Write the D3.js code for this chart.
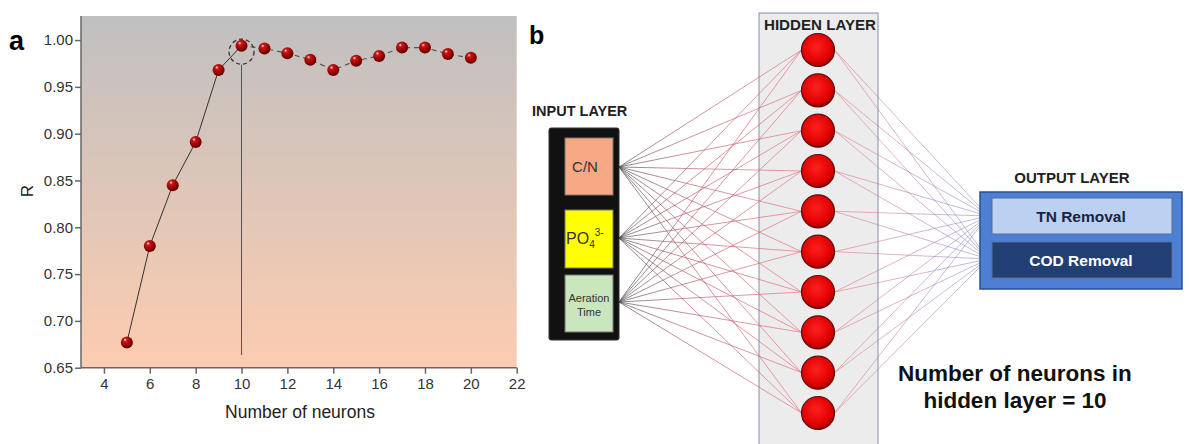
<!DOCTYPE html>
<meta charset="utf-8">
<style>
body { margin: 0; background: #fff; }
svg { display: block; font-family: "Liberation Sans", Arial, sans-serif; }
.axis path, .axis line { stroke: #666; stroke-width: 1.5; }
.axis text { fill: #333; font-size: 15px; }
.bold { font-weight: bold; }
</style>
<svg width="1189" height="444"></svg>
<script src="https://d3js.org/d3.v7.min.js"></script>
<script>

// panel a data
var neurons = [5, 6, 7, 8, 9, 10, 11, 12, 13, 14, 15, 16, 17, 18, 19, 20];
var rValues = [0.677, 0.780, 0.845, 0.891, 0.968, 0.994, 0.991, 0.986, 0.979, 0.968, 0.978, 0.983, 0.992, 0.992, 0.985, 0.981];
var xTicks = [4, 6, 8, 10, 12, 14, 16, 18, 20, 22];
var yTicks = [0.65, 0.70, 0.75, 0.80, 0.85, 0.90, 0.95, 1.00];
var bestNeurons = 10;

// panel b data
var inputLabels = ["C/N", "PO4", "Aeration Time"];
var inputColours = ["#f6a982", "#ffff00", "#c9e6bd"];
var hiddenCount = 10;
var outputLabels = ["TN Removal", "COD Removal"];

var svg = d3.select("svg");
var defs = svg.append("defs");

var bg = defs.append("linearGradient").attr("id", "bgGrad")
  .attr("x1", 0).attr("y1", 0).attr("x2", 0).attr("y2", 1);
bg.append("stop").attr("offset", "0%").attr("stop-color", "#c0c0c0");
bg.append("stop").attr("offset", "100%").attr("stop-color", "#fdccb0");

var ball = defs.append("radialGradient").attr("id", "ball")
  .attr("cx", "40%").attr("cy", "35%").attr("r", "65%").attr("fx", "35%").attr("fy", "28%");
ball.append("stop").attr("offset", "0%").attr("stop-color", "#ffe0e0");
ball.append("stop").attr("offset", "22%").attr("stop-color", "#c81818");
ball.append("stop").attr("offset", "70%").attr("stop-color", "#960000");
ball.append("stop").attr("offset", "100%").attr("stop-color", "#580000");

var neuronGrad = defs.append("radialGradient").attr("id", "neuron")
  .attr("cx", "45%").attr("cy", "40%").attr("r", "60%");
neuronGrad.append("stop").attr("offset", "0%").attr("stop-color", "#ff2020");
neuronGrad.append("stop").attr("offset", "75%").attr("stop-color", "#e00000");
neuronGrad.append("stop").attr("offset", "100%").attr("stop-color", "#a00000");

// ---------- panel a ----------
var x = d3.scaleLinear().domain([3, 22]).range([81, 516.7]);
var y = d3.scaleLinear().domain([0.65, 1.0257]).range([367.7, 16]);

var a = svg.append("g");

a.append("rect")
  .attr("x", x(3)).attr("y", y.range()[1])
  .attr("width", x(22) - x(3)).attr("height", y(0.65) - y.range()[1])
  .attr("fill", "url(#bgGrad)");

a.append("g").attr("class", "axis")
  .attr("transform", "translate(0," + y(0.65) + ")")
  .call(d3.axisBottom(x).tickValues(xTicks).tickSize(6).tickPadding(5).tickSizeOuter(0))
  .call(function(g){ g.select(".domain").attr("d", "M" + x(3) + ",0H" + x(22)); });

a.append("g").attr("class", "axis")
  .attr("transform", "translate(" + x(3) + ",0)")
  .call(d3.axisLeft(y).tickValues(yTicks).tickFormat(d3.format(".2f")).tickSize(6).tickPadding(2).tickSizeOuter(0))
  .call(function(g){ g.select(".domain").attr("d", "M0," + y(0.65) + "V" + y.range()[1]); });

var pts = neurons.map(function(n, i){ return [n, rValues[i]]; });
var bi = neurons.indexOf(bestNeurons);
var line = d3.line().x(function(d){ return x(d[0]); }).y(function(d){ return y(d[1]); });

a.append("path").datum(pts.slice(0, bi + 1)).attr("d", line)
  .attr("fill", "none").attr("stroke", "#333").attr("stroke-width", 1);
a.append("path").datum(pts.slice(bi)).attr("d", line)
  .attr("fill", "none").attr("stroke", "#555").attr("stroke-width", 1.2).attr("stroke-dasharray", "5,4");

// highlight of the best value
var cx = x(bestNeurons), cy = y(rValues[bi]) + 6;
a.append("circle").attr("cx", cx).attr("cy", cy).attr("r", 12.5)
  .attr("fill", "none").attr("stroke", "#333").attr("stroke-width", 1.3).attr("stroke-dasharray", "4,3");
a.append("line").attr("x1", cx).attr("x2", cx).attr("y1", cy + 13).attr("y2", 355)
  .attr("stroke", "#555").attr("stroke-width", 1);

a.selectAll("circle.pt").data(pts).enter().append("circle")
  .attr("class", "pt")
  .attr("cx", function(d){ return x(d[0]); })
  .attr("cy", function(d){ return y(d[1]); })
  .attr("r", 6)
  .attr("fill", "url(#ball)");

a.append("text").attr("x", 9).attr("y", 50).attr("class", "bold")
  .style("font-size", "27px").text("a");
a.append("text").attr("transform", "translate(33,191) rotate(-90)")
  .attr("text-anchor", "middle").style("font-size", "17px").attr("fill", "#222").text("R");
a.append("text").attr("x", 300).attr("y", 418).attr("text-anchor", "middle")
  .style("font-size", "17.5px").attr("fill", "#222").text("Number of neurons");

// ---------- panel b ----------
var b = svg.append("g");
b.append("text").attr("x", 529).attr("y", 44).attr("class", "bold")
  .style("font-size", "25px").text("b");

// hidden layer box
b.append("rect").attr("x", 759).attr("y", 13).attr("width", 119).attr("height", 445)
  .attr("fill", "#ececec").attr("stroke", "#8090a8").attr("stroke-width", 1);
b.append("text").attr("x", 820).attr("y", 30).attr("text-anchor", "middle")
  .attr("class", "bold").style("font-size", "14px").attr("textLength", 112)
  .attr("lengthAdjust", "spacingAndGlyphs").attr("fill", "#222").text("HIDDEN LAYER");

var hy = d3.scalePoint().domain(d3.range(hiddenCount)).range([50, 413]);
var hx = 818, hr = 16.5;

var iy = d3.scaleOrdinal().domain(inputLabels).range([167, 238, 302]);
var oy = d3.scaleOrdinal().domain(outputLabels).range([216, 259]);

// gradients for links
var g1 = defs.append("linearGradient").attr("id", "inLink").attr("gradientUnits", "userSpaceOnUse")
  .attr("x1", 619).attr("x2", 802).attr("y1", 0).attr("y2", 0);
g1.append("stop").attr("offset", "0%").attr("stop-color", "#444");
g1.append("stop").attr("offset", "35%").attr("stop-color", "#b05060");
g1.append("stop").attr("offset", "100%").attr("stop-color", "#ec6878");
var g2 = defs.append("linearGradient").attr("id", "outLink").attr("gradientUnits", "userSpaceOnUse")
  .attr("x1", 834).attr("x2", 985).attr("y1", 0).attr("y2", 0);
g2.append("stop").attr("offset", "0%").attr("stop-color", "#ec6878");
g2.append("stop").attr("offset", "100%").attr("stop-color", "#7c84d0");

var inLinks = [];
inputLabels.forEach(function(l){ d3.range(hiddenCount).forEach(function(h){ inLinks.push([l, h]); }); });
b.selectAll("line.in").data(inLinks).enter().append("line")
  .attr("x1", 619).attr("y1", function(d){ return iy(d[0]); })
  .attr("x2", hx - hr).attr("y2", function(d){ return hy(d[1]); })
  .attr("stroke", "url(#inLink)").attr("stroke-width", 0.9).attr("stroke-opacity", 0.7);

var outLinks = [];
d3.range(hiddenCount).forEach(function(h){ outputLabels.forEach(function(l){ outLinks.push([h, l]); }); });
b.selectAll("line.out").data(outLinks).enter().append("line")
  .attr("x1", hx + hr).attr("y1", function(d){ return hy(d[0]); })
  .attr("x2", 988).attr("y2", function(d){ return oy(d[1]); })
  .attr("stroke", "url(#outLink)").attr("stroke-width", 0.9).attr("stroke-opacity", 0.6);

b.selectAll("circle.neuron").data(d3.range(hiddenCount)).enter().append("circle")
  .attr("cx", hx).attr("cy", function(d){ return hy(d); }).attr("r", hr)
  .attr("fill", "url(#neuron)").attr("stroke", "#5a1010").attr("stroke-width", 1.2);

// input layer
b.append("text").attr("x", 532).attr("y", 116).attr("class", "bold")
  .style("font-size", "14.5px").attr("fill", "#222").text("INPUT LAYER");
b.append("rect").attr("x", 549).attr("y", 128).attr("width", 70).attr("height", 212)
  .attr("rx", 2).attr("fill", "#111").attr("stroke", "#333");
var boxY = [[138, 195], [210, 268], [275, 332]];
var ig = b.selectAll("g.input").data(inputLabels).enter().append("g");
ig.append("rect")
  .attr("x", 565).attr("width", 48)
  .attr("y", function(d, i){ return boxY[i][0]; })
  .attr("height", function(d, i){ return boxY[i][1] - boxY[i][0]; })
  .attr("fill", function(d, i){ return inputColours[i]; })
  .attr("stroke", "#777").attr("stroke-width", 1);

b.append("text").attr("x", 585).attr("y", 172).attr("text-anchor", "middle")
  .style("font-size", "15px").attr("fill", "#333").text(inputLabels[0]);
var po = b.append("text").attr("x", 566).attr("y", 244)
  .style("font-size", "16px").attr("fill", "#333");
po.append("tspan").text("PO");
po.append("tspan").attr("dy", 4).style("font-size", "10px").text("4");
po.append("tspan").attr("dy", -12).style("font-size", "10px").text("3-");
var at = b.append("text").attr("text-anchor", "middle").style("font-size", "11px").attr("fill", "#333");
at.append("tspan").attr("x", 589).attr("y", 302).text("Aeration");
at.append("tspan").attr("x", 589).attr("y", 316).text("Time");

// output layer
b.append("text").attr("x", 1072).attr("y", 183).attr("text-anchor", "middle").attr("class", "bold")
  .style("font-size", "15px").attr("fill", "#222").text("OUTPUT LAYER");
b.append("rect").attr("x", 980).attr("y", 192).attr("width", 202).attr("height", 97)
  .attr("fill", "#4d80d4").attr("stroke", "#2a4f96").attr("stroke-width", 1.5);
var outFill = ["#bcd0f2", "#223f74"];
var outText = ["#1a2440", "#ffffff"];
var outY = [198, 242];
b.selectAll("rect.out").data(outputLabels).enter().append("rect")
  .attr("x", 992).attr("width", 180)
  .attr("y", function(d, i){ return outY[i]; }).attr("height", 36)
  .attr("fill", function(d, i){ return outFill[i]; })
  .attr("stroke", "#5b6f90").attr("stroke-width", 1);
b.selectAll("text.out").data(outputLabels).enter().append("text")
  .attr("x", 1081).attr("y", function(d, i){ return outY[i] + 24; })
  .attr("text-anchor", "middle").attr("class", "bold")
  .style("font-size", "15.5px")
  .attr("fill", function(d, i){ return outText[i]; })
  .text(function(d){ return d; });

var note = b.append("text").attr("text-anchor", "middle").attr("class", "bold")
  .style("font-size", "22.5px").attr("fill", "#111");
note.append("tspan").attr("x", 1015).attr("y", 381).text("Number of neurons in");
note.append("tspan").attr("x", 1015).attr("y", 408).text("hidden layer = " + hiddenCount);

</script>
